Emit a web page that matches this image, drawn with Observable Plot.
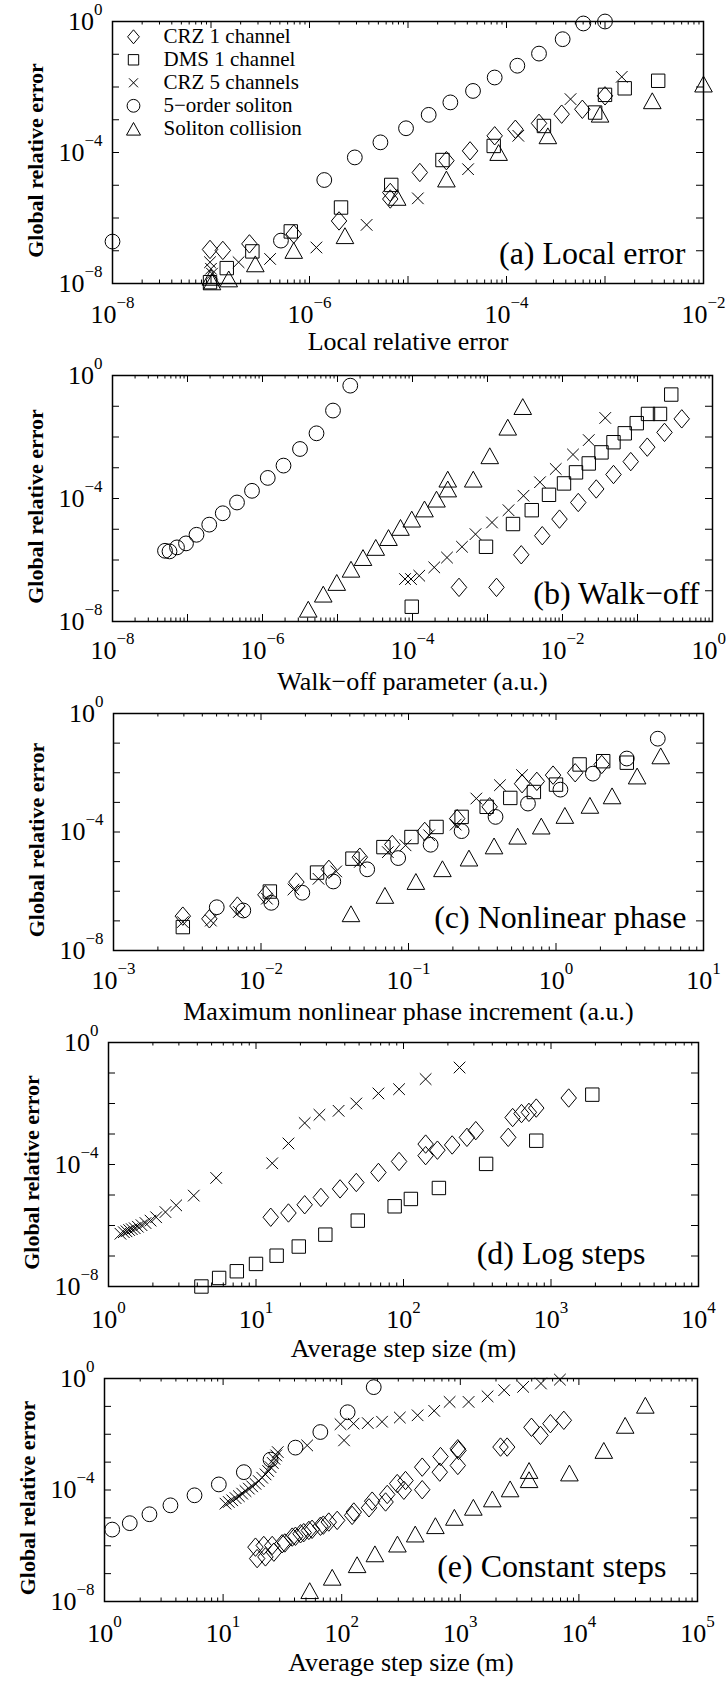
<!DOCTYPE html>
<html><head><meta charset="utf-8">
<script src="https://cdn.jsdelivr.net/npm/d3@7"></script>
<script src="https://cdn.jsdelivr.net/npm/@observablehq/plot@0.6"></script>
<style>
html,body{margin:0;padding:0;background:#fff;}
#chart{position:relative;width:727px;height:1686px;overflow:hidden;}
#chart svg{position:absolute;left:0;overflow:visible;}
</style></head><body><div id="chart"></div>
<script>
// ---- Series names (legend) ----
const seriesNames = ["CRZ 1 channel", "DMS 1 channel", "CRZ 5 channels", "5\u2212order soliton", "Soliton collision"];
const panelLabels = ["(a) Local error", "(b) Walk\u2212off", "(c) Nonlinear phase", "(d) Log steps", "(e) Constant steps"];
const xLabels = ["Local relative error", "Walk\u2212off parameter (a.u.)", "Maximum nonlinear phase increment (a.u.)", "Average step size (m)", "Average step size (m)"];
const yLabel = "Global relative error";

// tick label exponents (decades)
const a_xTickExp = [-8, -6, -4, -2];
const b_xTickExp = [-8, -6, -4, -2, 0];
const c_xTickExp = [-3, -2, -1, 0, 1];
const d_xTickExp = [0, 1, 2, 3, 4];
const e_xTickExp = [0, 1, 2, 3, 4, 5];
const yTickExp = [0, -4, -8];

// ---- Data: log10 of the values ----
// (a) Local error
const a_crz1_lx = [-7.01, -6.88, -6.61, -6.16, -5.70, -5.18, -5.18, -4.88, -4.61, -4.37, -4.12, -3.91, -3.67, -3.44, -3.23, -3.00];
const a_crz1_ly = [-6.96, -6.99, -6.79, -6.49, -6.09, -5.42, -5.22, -4.61, -4.25, -3.95, -3.49, -3.29, -3.11, -2.83, -2.68, -2.27];
const a_dms1_lx = [-7.01, -6.84, -6.58, -6.19, -5.68, -5.17, -4.65, -4.13, -3.62, -3.10, -3.00, -2.80, -2.46];
const a_dms1_ly = [-7.96, -7.53, -7.02, -6.41, -5.68, -4.99, -4.23, -3.80, -3.19, -2.78, -2.24, -2.04, -1.81];
const a_crz5_lx = [-7.01, -7.00, -6.99, -6.72, -6.40, -5.93, -5.42, -4.90, -4.39, -3.88, -3.35, -2.83];
const a_crz5_ly = [-7.35, -7.55, -7.70, -7.35, -7.25, -6.90, -6.21, -5.40, -4.51, -3.49, -2.37, -1.69];
const a_sol5_lx = [-8.00, -6.29, -5.85, -5.54, -5.28, -5.02, -4.79, -4.57, -4.34, -4.12, -3.89, -3.67, -3.43, -3.22, -3.00];
const a_sol5_ly = [-6.72, -6.69, -4.84, -4.15, -3.69, -3.26, -2.85, -2.47, -2.12, -1.71, -1.35, -0.98, -0.54, -0.06, 0.00];
const a_coll_lx = [-7.00, -6.99, -6.82, -6.55, -6.16, -5.64, -5.11, -4.61, -4.08, -3.58, -3.05, -2.52, -2.00];
const a_coll_ly = [-7.81, -7.95, -7.86, -7.40, -6.99, -6.54, -5.37, -4.81, -4.00, -3.49, -2.83, -2.42, -1.91];

// (b) Walk-off
const b_sol5_lx = [-7.30, -7.24, -7.14, -7.02, -6.88, -6.71, -6.53, -6.34, -6.14, -5.93, -5.72, -5.50, -5.28, -5.06, -4.83];
const b_sol5_ly = [-5.70, -5.72, -5.59, -5.46, -5.18, -4.85, -4.48, -4.13, -3.75, -3.33, -2.93, -2.39, -1.88, -1.14, -0.33];
const b_coll_lx = [-5.39, -5.19, -5.01, -4.82, -4.66, -4.49, -4.32, -4.16, -4.01, -3.84, -3.68, -3.53, -3.53, -3.19, -2.97, -2.73, -2.53];
const b_coll_ly = [-7.60, -7.11, -6.73, -6.30, -5.92, -5.59, -5.27, -4.94, -4.67, -4.34, -4.02, -3.69, -3.37, -3.37, -2.61, -1.68, -1.01];
const b_crz5_lx = [-4.10, -4.02, -3.91, -3.71, -3.54, -3.34, -3.16, -2.94, -2.72, -2.52, -2.30, -2.09, -1.86, -1.65, -1.43];
const b_crz5_ly = [-6.62, -6.62, -6.51, -6.24, -5.92, -5.57, -5.16, -4.78, -4.38, -3.91, -3.47, -3.04, -2.57, -2.10, -1.38];
const b_dms1_lx = [-4.01, -3.02, -2.66, -2.41, -2.18, -1.98, -1.82, -1.65, -1.48, -1.32, -1.17, -1.01, -0.86, -0.70, -0.55];
const b_dms1_ly = [-7.52, -5.57, -4.83, -4.38, -3.88, -3.51, -3.15, -2.86, -2.50, -2.17, -1.88, -1.55, -1.25, -1.25, -0.62];
const b_crz1_lx = [-3.38, -2.88, -2.55, -2.27, -2.04, -1.79, -1.55, -1.32, -1.09, -0.87, -0.64, -0.41];
const b_crz1_ly = [-6.89, -6.89, -5.83, -5.21, -4.67, -4.13, -3.69, -3.22, -2.80, -2.33, -1.85, -1.41];

// (c) Nonlinear phase
const c_crz1_lx = [-2.53, -2.35, -2.16, -1.97, -1.76, -1.54, -1.33, -1.11, -0.89, -0.67, -0.45, -0.23, -0.13, -0.02, 0.13, 0.31];
const c_crz1_ly = [-6.84, -6.93, -6.50, -6.12, -5.69, -5.26, -4.85, -4.42, -3.98, -3.55, -3.15, -2.37, -2.29, -2.08, -2.00, -1.72];
const c_dms1_lx = [-2.53, -1.94, -1.62, -1.38, -1.17, -0.98, -0.81, -0.64, -0.47, -0.31, -0.15, 0.00, 0.16, 0.32, 0.48];
const c_dms1_ly = [-7.21, -6.01, -5.37, -4.90, -4.51, -4.17, -3.83, -3.49, -3.15, -2.85, -2.65, -2.40, -1.72, -1.61, -1.66];
const c_crz5_lx = [-2.53, -2.34, -2.15, -1.96, -1.78, -1.61, -1.49, -1.33, -1.14, -1.02, -0.86, -0.68, -0.54, -0.38, -0.23];
const c_crz5_ly = [-7.04, -6.99, -6.70, -6.25, -5.94, -5.58, -5.33, -5.01, -4.68, -4.45, -4.11, -3.75, -2.87, -2.42, -2.08];
const c_sol5_lx = [-2.30, -2.12, -1.93, -1.72, -1.51, -1.28, -1.07, -0.85, -0.64, -0.41, -0.19, 0.03, 0.25, 0.48, 0.69];
const c_sol5_ly = [-6.54, -6.65, -6.39, -6.05, -5.67, -5.26, -4.88, -4.43, -3.97, -3.49, -3.04, -2.57, -2.03, -1.52, -0.85];
const c_coll_lx = [-1.39, -1.16, -0.95, -0.77, -0.59, -0.42, -0.26, -0.10, 0.06, 0.23, 0.38, 0.55, 0.71];
const c_coll_ly = [-6.76, -6.14, -5.67, -5.24, -4.88, -4.47, -4.14, -3.80, -3.44, -3.10, -2.78, -2.11, -1.43];

// (d) Log steps
const d_crz5_lx = [0.081, 0.104, 0.122, 0.140, 0.158, 0.178, 0.199, 0.224, 0.251, 0.285, 0.323, 0.386, 0.459, 0.578, 0.73, 1.11, 1.22, 1.33, 1.43, 1.56, 1.68, 1.83, 1.97, 2.15, 2.38];
const d_crz5_ly = [-6.27, -6.22, -6.19, -6.15, -6.12, -6.09, -6.04, -5.99, -5.92, -5.84, -5.73, -5.56, -5.34, -5.02, -4.44, -3.96, -3.31, -2.64, -2.37, -2.24, -2.00, -1.67, -1.53, -1.20, -0.82];
const d_crz1_lx = [1.10, 1.22, 1.33, 1.44, 1.57, 1.68, 1.83, 1.97, 2.15, 2.15, 2.23, 2.33, 2.43, 2.49, 2.71, 2.74, 2.80, 2.85, 2.90, 3.12];
const d_crz1_ly = [-5.73, -5.59, -5.32, -5.08, -4.80, -4.59, -4.26, -3.90, -3.33, -3.71, -3.53, -3.36, -3.11, -2.89, -3.11, -2.46, -2.33, -2.29, -2.15, -1.82];
const d_dms1_lx = [0.63, 0.75, 0.87, 1.00, 1.14, 1.29, 1.47, 1.69, 1.94, 2.05, 2.24, 2.56, 2.90, 3.28];
const d_dms1_ly = [-8.00, -7.72, -7.50, -7.26, -6.99, -6.69, -6.30, -5.84, -5.37, -5.13, -4.77, -3.98, -3.22, -1.71];

// (e) Constant steps
const e_sol5_lx = [0.065, 0.213, 0.379, 0.556, 0.759, 0.964, 1.175, 1.40, 1.61, 1.82, 2.05, 2.27];
const e_sol5_ly = [-5.42, -5.19, -4.87, -4.55, -4.19, -3.80, -3.36, -2.91, -2.48, -1.92, -1.21, -0.31];
const e_crz5_lx = [1.02, 1.048, 1.077, 1.105, 1.133, 1.161, 1.189, 1.217, 1.245, 1.273, 1.301, 1.33, 1.358, 1.38, 1.40, 1.419, 1.433, 1.448, 1.461, 1.709, 1.99, 2.02, 2.10, 2.22, 2.34, 2.49, 2.64, 2.78, 2.91, 3.07, 3.23, 3.37, 3.53, 3.68, 3.84];
const e_crz5_ly = [-4.49, -4.43, -4.37, -4.29, -4.22, -4.13, -4.04, -3.95, -3.87, -3.78, -3.68, -3.56, -3.44, -3.32, -3.18, -3.03, -2.88, -2.76, -2.64, -2.40, -1.64, -2.22, -1.62, -1.60, -1.55, -1.40, -1.32, -1.16, -0.84, -0.84, -0.64, -0.42, -0.30, -0.18, -0.04];
const e_crz1_lx = [1.273, 1.287, 1.343, 1.357, 1.414, 1.428, 1.498, 1.52, 1.583, 1.61, 1.653, 1.68, 1.723, 1.75, 1.821, 1.845, 1.891, 1.962, 2.088, 2.102, 2.23, 2.257, 2.37, 2.384, 2.468, 2.524, 2.538, 2.679, 2.679, 2.827, 2.833, 2.979, 2.979, 2.985, 3.339, 3.395, 3.60, 3.676, 3.76, 3.873];
const e_crz1_ly = [-6.05, -6.46, -5.99, -6.40, -5.99, -6.23, -5.93, -5.90, -5.69, -5.66, -5.57, -5.53, -5.45, -5.41, -5.30, -5.26, -5.15, -5.09, -4.91, -4.79, -4.64, -4.40, -4.43, -4.16, -3.77, -4.01, -3.66, -3.99, -3.18, -3.36, -2.80, -3.12, -2.52, -2.58, -2.46, -2.46, -1.75, -2.04, -1.62, -1.50];
const e_coll_lx = [1.73, 1.92, 2.13, 2.28, 2.47, 2.62, 2.79, 2.95, 3.11, 3.27, 3.42, 3.58, 3.58, 3.92, 4.21, 4.39, 4.56];
const e_coll_ly = [-7.61, -7.13, -6.68, -6.29, -5.94, -5.58, -5.28, -4.98, -4.62, -4.32, -3.96, -3.63, -3.30, -3.39, -2.58, -1.68, -0.96];

// ---- build tables ----
const rows = (lx, ly) => lx.map((v, i) => ({x: 10 ** v, y: 10 ** ly[i]}));

// marker shapes (MATLAB-like), half-size given by Plot's r
const rad = size => Math.sqrt(size / Math.PI);
const diamondM = {draw(c, s) { const r = rad(s), w = 0.84 * r; c.moveTo(0, -r); c.lineTo(w, 0); c.lineTo(0, r); c.lineTo(-w, 0); c.closePath(); }};
const squareM = {draw(c, s) { const r = rad(s); c.rect(-r, -r, 2 * r, 2 * r); }};
const timesM = {draw(c, s) { const r = rad(s); c.moveTo(-r, -r); c.lineTo(r, r); c.moveTo(r, -r); c.lineTo(-r, r); }};
const triM = {draw(c, s) { const r = rad(s), h = 0.9 * r; c.moveTo(0, -h); c.lineTo(r, h); c.lineTo(-r, h); c.closePath(); }};

const SYM = {
  crz1: {symbol: diamondM, r: 9.2, rl: 7},
  dms1: {symbol: squareM, r: 6.7, rl: 5.2},
  crz5: {symbol: timesM, r: 5.8, rl: 4.5},
  sol5: {symbol: "circle", r: 7.4, rl: 6.4},
  coll: {symbol: triM, r: 8.8, rl: 7}
};
const legendKeys = ["crz1", "dms1", "crz5", "sol5", "coll"];

const FONT = "'Liberation Serif', 'Times New Roman', Times, serif";

const panels = [
  {top: 0, H: 355, ml: 112, mr: 24, mt: 21, mb: 72, xExp: [-8, -2], xTickExp: a_xTickExp, tickOff: 40, xlDy: 66, plDx: -18, plDy: -20, legend: true,
   series: {crz1: rows(a_crz1_lx, a_crz1_ly), dms1: rows(a_dms1_lx, a_dms1_ly), crz5: rows(a_crz5_lx, a_crz5_ly), sol5: rows(a_sol5_lx, a_sol5_ly), coll: rows(a_coll_lx, a_coll_ly)}},
  {top: 355, H: 335, ml: 112, mr: 15, mt: 20, mb: 69, xExp: [-8, 0], xTickExp: b_xTickExp, tickOff: 38, xlDy: 68, plDx: -13, plDy: -18,
   series: {sol5: rows(b_sol5_lx, b_sol5_ly), coll: rows(b_coll_lx, b_coll_ly), crz5: rows(b_crz5_lx, b_crz5_ly), dms1: rows(b_dms1_lx, b_dms1_ly), crz1: rows(b_crz1_lx, b_crz1_ly)}},
  {top: 690, H: 335, ml: 113, mr: 24, mt: 23, mb: 75, xExp: [-3, 1], xTickExp: c_xTickExp, tickOff: 39, xlDy: 69, plDx: -17, plDy: -23,
   series: {crz1: rows(c_crz1_lx, c_crz1_ly), dms1: rows(c_dms1_lx, c_dms1_ly), crz5: rows(c_crz5_lx, c_crz5_ly), sol5: rows(c_sol5_lx, c_sol5_ly), coll: rows(c_coll_lx, c_coll_ly)}},
  {top: 1025, H: 335, ml: 108, mr: 29, mt: 17, mb: 74, xExp: [0, 4], xTickExp: d_xTickExp, tickOff: 42, xlDy: 70, plDx: -53, plDy: -23,
   series: {crz5: rows(d_crz5_lx, d_crz5_ly), crz1: rows(d_crz1_lx, d_crz1_ly), dms1: rows(d_dms1_lx, d_dms1_ly)}},
  {top: 1360, H: 326, ml: 104, mr: 30, mt: 18, mb: 85, xExp: [0, 5], xTickExp: e_xTickExp, tickOff: 41, xlDy: 69, plDx: -31, plDy: -25,
   series: {sol5: rows(e_sol5_lx, e_sol5_ly), crz5: rows(e_crz5_lx, e_crz5_ly), crz1: rows(e_crz1_lx, e_crz1_ly), coll: rows(e_coll_lx, e_coll_ly)}}
];

const fmt = d => {
  const e = Math.round(Math.log10(d));
  return "10|" + (e < 0 ? "\u2212" + (-e) : String(e));
};

function decades(lo, hi) {
  const major = [], minor = [];
  for (let e = lo; e <= hi; e++) {
    major.push(10 ** e);
    if (e < hi) for (let m = 2; m <= 9; m++) minor.push(m * 10 ** e);
  }
  return {major, minor};
}

const ns = "http://www.w3.org/2000/svg";
function superscripts(svg) {
  svg.querySelectorAll("text").forEach(t => {
    const s = t.textContent;
    if (!s.includes("|")) return;
    const [b, e] = s.split("|");
    while (t.firstChild) t.removeChild(t.firstChild);
    const t1 = document.createElementNS(ns, "tspan");
    t1.textContent = b;
    const t2 = document.createElementNS(ns, "tspan");
    t2.setAttribute("dy", "-15");
    t2.setAttribute("font-size", "17");
    t2.textContent = e;
    t.append(t1, t2);
  });
}

const chart = document.getElementById("chart");
panels.forEach((p, k) => {
  const fw = 727 - p.ml - p.mr, fh = p.H - p.mt - p.mb;
  const xt = decades(p.xExp[0], p.xExp[1]);
  const yt = decades(-8, 0);
  const marks = [
    Plot.tickX(xt.major, {x: d => d, insetTop: fh - 7, stroke: "black", strokeWidth: 1}),
    Plot.tickX(xt.major, {x: d => d, insetBottom: fh - 7, stroke: "black", strokeWidth: 1}),
    Plot.tickX(xt.minor, {x: d => d, insetTop: fh - 3.5, stroke: "black", strokeWidth: 1}),
    Plot.tickX(xt.minor, {x: d => d, insetBottom: fh - 3.5, stroke: "black", strokeWidth: 1}),
    Plot.tickY(yt.major, {y: d => d, insetRight: fw - 7, stroke: "black", strokeWidth: 1}),
    Plot.tickY(yt.major, {y: d => d, insetLeft: fw - 7, stroke: "black", strokeWidth: 1}),
    Plot.frame({stroke: "black", strokeWidth: 1.5}),
    Plot.axisX(p.xTickExp.map(e => 10 ** e), {tickSize: 0, tickPadding: p.tickOff - 18.5, tickFormat: fmt, fontSize: 26, label: null, fill: "black"}),
    Plot.axisY(yTickExp.map(e => 10 ** e), {tickSize: 0, tickPadding: 10, tickFormat: fmt, fontSize: 26, label: null, fill: "black"})
  ];
  for (const key of Object.keys(p.series)) {
    const s = SYM[key];
    marks.push(Plot.dot(p.series[key], {x: "x", y: "y", symbol: s.symbol, r: s.r, stroke: "black", fill: "none", strokeWidth: 1}));
  }
  if (p.legend) {
    legendKeys.forEach((key, i) => {
      const s = SYM[key];
      marks.push(Plot.dot([seriesNames[i]], {frameAnchor: "top-left", dx: 21, dy: 15.3 + 23 * i, symbol: s.symbol, r: s.rl, stroke: "black", fill: "none", strokeWidth: 1}));
      marks.push(Plot.text([seriesNames[i]], {frameAnchor: "top-left", dx: 51, dy: 21.7 + 23 * i, text: d => d, textAnchor: "start", lineAnchor: "bottom", fontSize: 21, fill: "black"}));
    });
  }
  marks.push(Plot.text([panelLabels[k]], {frameAnchor: "bottom-right", dx: p.plDx, dy: p.plDy, text: d => d, textAnchor: "end", lineAnchor: "bottom", fontSize: 32, fill: "black"}));
  marks.push(Plot.text([xLabels[k]], {frameAnchor: "bottom", dy: p.xlDy, text: d => d, textAnchor: "middle", lineAnchor: "bottom", fontSize: 26, fill: "black"}));
  marks.push(Plot.text([yLabel], {frameAnchor: "left", dx: -77, dy: 8, rotate: -90, text: d => d, textAnchor: "middle", lineAnchor: "middle", fontSize: 22, fontWeight: "bold", fill: "black"}));

  const svg = Plot.plot({
    width: 727, height: p.H,
    marginLeft: p.ml, marginRight: p.mr, marginTop: p.mt, marginBottom: p.mb,
    x: {type: "log", domain: [10 ** p.xExp[0], 10 ** p.xExp[1]], label: null},
    y: {type: "log", domain: [1e-8, 1], label: null},
    style: {fontFamily: FONT, background: "transparent", color: "black", overflow: "visible"},
    marks
  });
  superscripts(svg);
  svg.style.top = p.top + "px";
  chart.append(svg);
  // keep tick labels inside the page's right edge
  svg.querySelectorAll("text").forEach(t => {
    const bb = t.getBoundingClientRect();
    if (bb.right > 726) {
      const over = bb.right - 726;
      t.setAttribute("dx", String(-over));
    }
  });
});
</script></body></html>
